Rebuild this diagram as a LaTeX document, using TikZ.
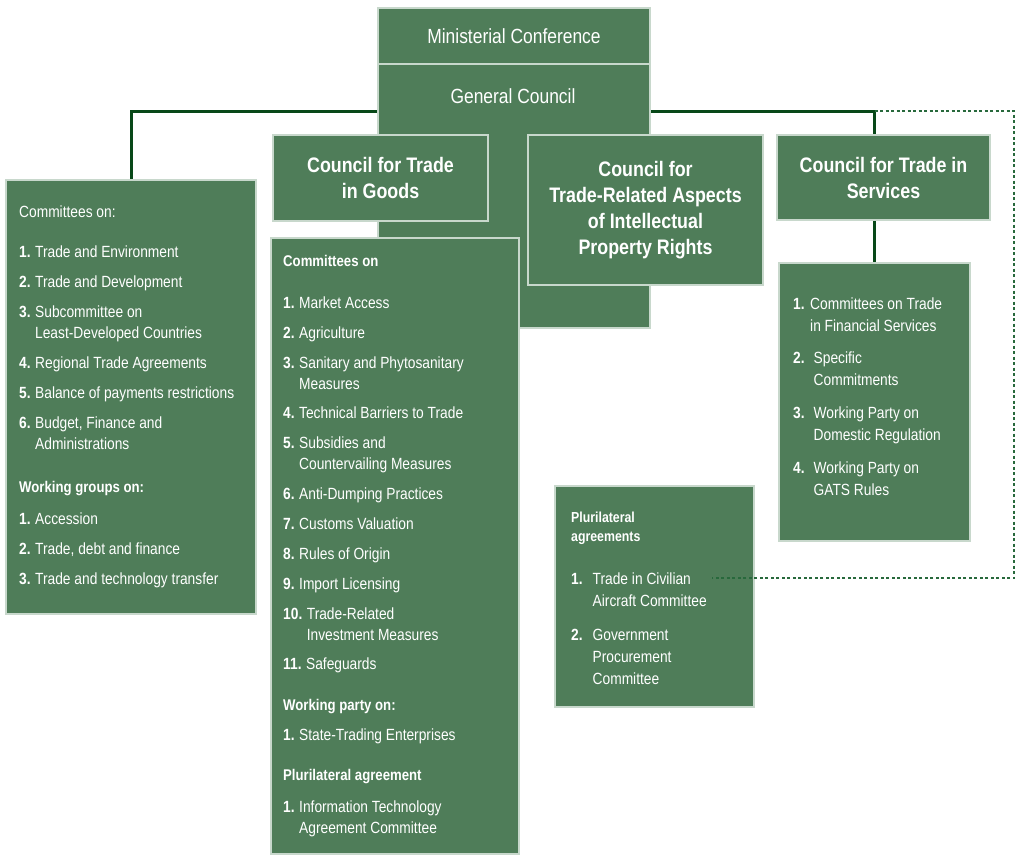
\documentclass[tikz,border=0pt]{standalone}
\usepackage{fontspec}
\setmainfont{Liberation Sans}[FakeStretch=0.85]
\definecolor{boxg}{RGB}{79,125,89}
\definecolor{edgeg}{RGB}{200,216,204}
\definecolor{lineg}{RGB}{8,72,24}
\definecolor{dotg}{RGB}{40,105,60}
\pgfdeclarelayer{bg}
\pgfsetlayers{bg,main}
\newcommand\gbox[5][]{\node[gbx,#1,minimum width=#4,minimum height=#5,anchor=north west] (#2) at (#3) {};}
\newcommand\itm[5][4.5pt]{\node[item] (#2) at (#3) {\begin{tabular}[t]{@{}l@{\hspace{#1}}l@{}}\textbf{#4} & #5\end{tabular}};}
\tikzset{
  gbx/.style={draw=edgeg, fill=boxg, line width=2pt, inner sep=0pt, text=white},
  ttl/.style={font=\fontsize{21}{26}\selectfont\bfseries, align=center, text=white},
  item/.style={anchor=base west, inner sep=0pt, text=white, font=\fontsize{16.2}{21}\selectfont},
  head/.style={anchor=base west, inner sep=0pt, text=white, font=\fontsize{15.5}{20}\selectfont\bfseries, align=left},
  conn/.style={draw=lineg, line width=3pt},
  dotconn/.style={draw=dotg, line width=1.6pt, dash pattern=on 3pt off 2.5pt}
}
\begin{document}
\begin{tikzpicture}[x=1pt,y=-1pt]
\useasboundingbox (0,0) rectangle (1019,855);
% boxes
\gbox{gcbig}{377,63}{272pt}{264pt}
\node[gbx,minimum width=272pt,minimum height=56pt,anchor=north west,font=\fontsize{20.5}{24}\selectfont] (mc) at (377,7) {Ministerial Conference};
\node[text=white,inner sep=0pt,font=\fontsize{20.5}{24}\selectfont] (gct) at (513,96) {General Council};
\gbox{left}{5,179}{250pt}{434pt}
\node[gbx,ttl,minimum width=215pt,minimum height=86pt,anchor=north west] (goods) at (272,134) {Council for Trade\\in Goods};
\gbox{goodscom}{270,237}{248pt}{616pt}
\node[gbx,ttl,minimum width=235pt,minimum height=150pt,anchor=north west] (trips) at (527,134) {Council for\\Trade-Related Aspects\\of Intellectual\\Property Rights};
\node[gbx,ttl,minimum width=213pt,minimum height=85pt,anchor=north west] (serv) at (776,134) {Council for Trade in\\Services};
\gbox{servcom}{778,262}{191pt}{278pt}
\gbox{plur}{554,485}{199pt}{221pt}
% connectors
\coordinate (hy) at (0,111);
\begin{pgfonlayer}{bg}
\draw[conn] (gcbig.west |- hy) -| (left.north);
\draw[conn] (gcbig.east |- hy) -| (servcom.north);
\end{pgfonlayer}
\coordinate (dc) at (1014,111);
\coordinate (pend) at (712,578);
\draw[dotconn] (servcom.north |- hy) -- (dc) |- (pend);
% left box
\node[item] (lh) at (19,217) {Committees on:};
\itm{l1}{19,257}{1.}{Trade and Environment}
\itm{l2}{19,287}{2.}{Trade and Development}
\itm{l3}{19,317}{3.}{Subcommittee on\\ & Least-Developed Countries}
\itm{l4}{19,368}{4.}{Regional Trade Agreements}
\itm{l5}{19,398}{5.}{Balance of payments restrictions}
\itm{l6}{19,428}{6.}{Budget, Finance and\\ & Administrations}
\node[head] (lw) at (19,492) {Working groups on:};
\itm{w1}{19,524}{1.}{Accession}
\itm{w2}{19,554}{2.}{Trade, debt and finance}
\itm{w3}{19,584}{3.}{Trade and technology transfer}
% goods committees
\node[head] (gh) at (283,266) {Committees on};
\itm{g1}{283,308}{1.}{Market Access}
\itm{g2}{283,338}{2.}{Agriculture}
\itm{g3}{283,368}{3.}{Sanitary and Phytosanitary\\ & Measures}
\itm{g4}{283,418}{4.}{Technical Barriers to Trade}
\itm{g5}{283,448}{5.}{Subsidies and\\ & Countervailing Measures}
\itm{g6}{283,499}{6.}{Anti-Dumping Practices}
\itm{g7}{283,529}{7.}{Customs Valuation}
\itm{g8}{283,559}{8.}{Rules of Origin}
\itm{g9}{283,589}{9.}{Import Licensing}
\itm{g10}{283,619}{10.}{Trade-Related\\ & Investment Measures}
\itm{g11}{283,669}{11.}{Safeguards}
\node[head] (gw) at (283,710) {Working party on:};
\itm{gw1}{283,740}{1.}{State-Trading Enterprises}
\node[head] (gp) at (283,780) {Plurilateral agreement};
\itm{gp1}{283,812}{1.}{Information Technology\\ & Agreement Committee}
% services committees
\begin{scope}[item/.append style={font=\fontsize{16.2}{22}\selectfont}]
\itm[5.5pt]{s1}{793,309}{1.}{Committees on Trade\\ & in Financial Services}
\itm[9pt]{s2}{793,363}{2.}{Specific\\ & Commitments}
\itm[9pt]{s3}{793,418}{3.}{Working Party on\\ & Domestic Regulation}
\itm[9pt]{s4}{793,473}{4.}{Working Party on\\ & GATS Rules}
% plurilateral
\node[head,font=\fontsize{14.5}{19}\selectfont\bfseries] (ph) at (571,541) {Plurilateral\\agreements};
\itm[10pt]{p1}{571,584}{1.}{Trade in Civilian\\ & Aircraft Committee}
\itm[10pt]{p2}{571,640}{2.}{Government\\ & Procurement\\ & Committee}
\end{scope}
\end{tikzpicture}
\end{document}
